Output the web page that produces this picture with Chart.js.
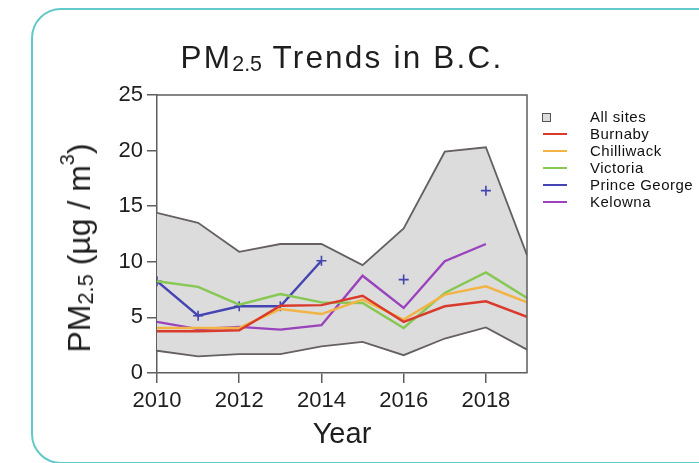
<!DOCTYPE html>
<html>
<head>
<meta charset="utf-8">
<script src="https://cdn.jsdelivr.net/npm/chart.js@4.4.0/dist/chart.umd.min.js"></script>
<style>
  html, body { margin: 0; padding: 0; background: #fff; }
  body { width: 699px; height: 463px; position: relative; overflow: hidden;
         font-family: 'Liberation Sans', Arial, sans-serif; color: #1e1e1e; }
  #frame { position: absolute; left: 31px; top: 8px; width: 720px; height: 452px;
           border: 2px solid #62c9c8; border-radius: 30px; }
  #c { position: absolute; left: 0; top: 0; }
  .title { position: absolute; left: 0; width: 684px; top: 42px; text-align: center;
           font-size: 31.5px; line-height: 31px; letter-spacing: 2.2px; white-space: nowrap; }
  .sub { font-size: 0.68em; position: relative; top: 0.14em; letter-spacing: 0; }
  .sup { font-size: 0.62em; position: relative; top: -0.8em; }
  .ylab { position: absolute; left: 81px; top: 248px; font-size: 32px; line-height: 32px;
          white-space: nowrap; transform: translate(-50%, -50%) rotate(-90deg); }
  .xlab { position: absolute; left: 0; width: 684px; top: 419px; text-align: center;
          font-size: 29px; line-height: 29px; }
  #legend { position: absolute; left: 541px; top: 108px; font-size: 15px; letter-spacing: 0.5px; color: #111; }
  .row { height: 17.1px; line-height: 17.1px; position: relative; white-space: nowrap; }
  .row span.txt { position: absolute; left: 49px; top: 0; }
  .sym { position: absolute; }
</style>
</head>
<body>
<div id="frame"></div>
<canvas id="c" width="699" height="463"></canvas>
<div class="title">PM<span class="sub">2.5</span> Trends in B.C.</div>
<div class="ylab">PM<span class="sub">2.5</span> (µg / m<span class="sup">3</span>)</div>
<div class="xlab">Year</div>
<div id="legend"></div>
<script>
// valeurs
const years = [2010, 2011, 2012, 2013, 2014, 2015, 2016, 2017, 2018, 2019];
const xTicks = [2010, 2012, 2014, 2016, 2018];
const yTicks = [0, 5, 10, 15, 20, 25];

const allSitesMax = [14.4, 13.5, 10.9, 11.6, 11.6, 9.7, 13.0, 19.9, 20.3, 10.6];
const allSitesMin = [2.0, 1.5, 1.7, 1.7, 2.4, 2.8, 1.6, 3.1, 4.1, 2.1];

const burnaby      = [3.75, 3.75, 3.85, 6.05, 6.1, 6.95, 4.6, 6.0, 6.45, 5.05];
const chilliwack   = [4.05, 4.05, 4.05, 5.75, 5.3, 6.6, 4.8, 7.05, 7.8, 6.35];
const victoria     = [8.25, 7.75, 6.15, 7.1, 6.35, 6.3, 4.05, 7.2, 9.05, 6.75];
const princeGeorge = [8.25, 5.15, 6.0, 6.0, 10.1, null, 8.4, null, 16.4, null];
const kelowna      = [4.6, 3.95, 4.15, 3.9, 4.3, 8.75, 5.85, 10.05, 11.6, null];

const seriesNames  = ['Burnaby', 'Chilliwack', 'Victoria', 'Prince George', 'Kelowna'];
const seriesValues = [burnaby, chilliwack, victoria, princeGeorge, kelowna];
const seriesColors = ['#d93a2b', '#f1b445', '#86c852', '#4444b2', '#9b42bd'];

const axisColor = '#5e5e5e';
const bandLine = '#666060';
const bandColor = '#dcdcdc';

Chart.defaults.font.family = "'Liberation Sans', Arial, sans-serif";
Chart.defaults.color = '#1e1e1e';

const toPoints = vals => years.map((y, i) => ({ x: y, y: vals[i] }));

let datasets = [
  {
    label: 'All sites max', data: toPoints(allSitesMax),
    borderColor: bandLine, borderWidth: 1.8, backgroundColor: bandColor,
    fill: '+1', pointRadius: 0, order: 6
  },
  {
    label: 'All sites min', data: toPoints(allSitesMin),
    borderColor: bandLine, borderWidth: 1.8, fill: false, pointRadius: 0, order: 5
  }
];

seriesNames.forEach(function (name, i) {
  let isPG = name === 'Prince George';
  datasets.push({
    label: name,
    data: toPoints(seriesValues[i]),
    borderColor: seriesColors[i],
    backgroundColor: seriesColors[i],
    borderWidth: 2.4,
    fill: false,
    spanGaps: false,
    pointStyle: isPG ? 'cross' : 'circle',
    pointRadius: isPG ? 5 : 0,
    pointBorderWidth: 1.6,
    order: i
  });
});

// cadre haut + droite
const framePlugin = {
  id: 'frame',
  afterDatasetsDraw(chart) {
    const { ctx, chartArea: a } = chart;
    ctx.save();
    ctx.strokeStyle = axisColor;
    ctx.lineWidth = 1.5;
    ctx.beginPath();
    ctx.moveTo(a.left, a.top);
    ctx.lineTo(a.right, a.top);
    ctx.lineTo(a.right, a.bottom);
    ctx.stroke();
    ctx.restore();
  }
};

new Chart(document.getElementById('c'), {
  type: 'line',
  data: { datasets: datasets },
  options: {
    responsive: false,
    animation: false,
    layout: { padding: { left: 0, top: 95, right: 172, bottom: 50 } },
    plugins: { legend: { display: false }, tooltip: { enabled: false } },
    elements: { line: { tension: 0 } },
    scales: {
      x: {
        type: 'linear', min: 2010, max: 2019,
        afterBuildTicks: s => { s.ticks = xTicks.map(v => ({ value: v })); },
        afterFit: s => { s.height = 40; },
        ticks: { callback: v => String(v), font: { size: 22 }, padding: 5, maxRotation: 0, color: '#1e1e1e' },
        grid: { drawOnChartArea: false, drawTicks: true, tickLength: 10, color: axisColor, lineWidth: 1.5 },
        border: { display: true, color: axisColor, width: 1.5 }
      },
      y: {
        type: 'linear', min: 0, max: 25,
        afterBuildTicks: s => { s.ticks = yTicks.map(v => ({ value: v })); },
        afterFit: s => { s.width = 157; },
        ticks: { font: { size: 22 }, padding: 4, color: '#1e1e1e' },
        grid: { drawOnChartArea: false, drawTicks: true, tickLength: 10, color: axisColor, lineWidth: 1.5 },
        border: { display: true, color: axisColor, width: 1.5 }
      }
    }
  },
  plugins: [framePlugin]
});

// légende
let legend = document.getElementById('legend');
let rows = '<div class="row"><span class="sym" style="left:1px;top:4.5px;width:7px;height:7px;border:1px solid #555;background:' + bandColor + '"></span><span class="txt">All sites</span></div>';
seriesNames.forEach(function (name, i) {
  rows += '<div class="row"><span class="sym" style="left:2px;top:7.5px;width:24px;height:2px;background:' + seriesColors[i] + '"></span><span class="txt">' + name + '</span></div>';
});
legend.innerHTML = rows;
</script>
</body>
</html>
